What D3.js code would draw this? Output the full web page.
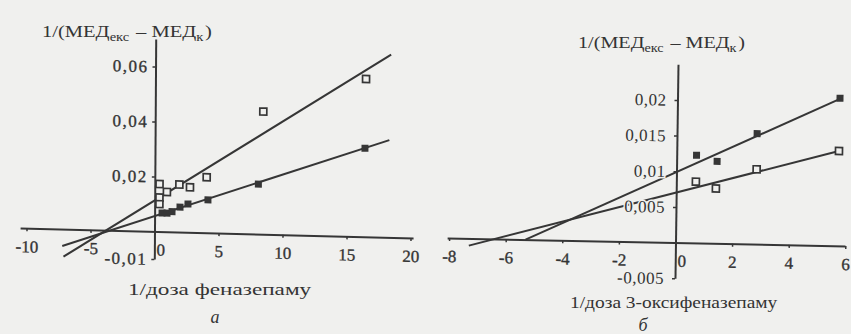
<!DOCTYPE html>
<html>
<head>
<meta charset="utf-8">
<script src="https://cdn.jsdelivr.net/npm/d3@7"></script>
<style>
  html, body { margin: 0; padding: 0; background: #f0f0ee; }
  svg { display: block; }
  text { font-family: "Liberation Serif", "Times New Roman", serif; fill: #343434; }
</style>
</head>
<body>
<svg id="chart" width="851" height="334"></svg>
<script>
// ---- Panel а: 1/доза феназепаму ----
const aXTicks = [-10, -5, 0, 5, 10, 15, 20];
const aYTicks = [-0.01, 0.02, 0.04, 0.06];
const aXExtent = [-10.5, 20.2];
const aYExtent = [-0.01, 0.07];
const aOpenX = [0.37, 0.95, 0.37, 0.37, 1.92, 2.75, 4.05, 8.44, 16.45];
const aOpenY = [0.0173, 0.0145, 0.0124, 0.0100, 0.0173, 0.0164, 0.0202, 0.0446, 0.0574];
const aFilledX = [0.58, 0.97, 1.36, 1.98, 2.6, 4.16, 8.09, 16.4];
const aFilledY = [0.0068, 0.0068, 0.0074, 0.0091, 0.0103, 0.0120, 0.0182, 0.0322];
const aOpenTrendX = [-7.1, 18.4];
const aOpenTrendY = [-0.0100, 0.0665];
const aFilledTrendX = [-7.2, 18.3];
const aFilledTrendY = [-0.0061, 0.0354];

// ---- Panel б: 1/доза 3-оксифеназепаму ----
const bXTicks = [-8, -6, -4, -2, 0, 2, 4, 6];
const bYTicks = [-0.005, 0.005, 0.01, 0.015, 0.02];
const bXExtent = [-8.07, 5.99];
const bYExtent = [-0.005, 0.025];
const bFilledX = [0.70, 1.43, 2.83, 5.74];
const bFilledY = [0.0123, 0.0115, 0.0155, 0.0207];
const bOpenX = [0.69, 1.40, 2.83, 5.73];
const bOpenY = [0.0086, 0.0077, 0.0105, 0.0133];
const bFilledTrendX = [-5.3, 5.74];
const bFilledTrendY = [0, 0.0206];
const bOpenTrendX = [-7.3, 5.73];
const bOpenTrendY = [-0.001, 0.0133];

const yTitleParts = [
  { t: "1/(МЕД" }, { t: "екс", sub: true }, { t: " – МЕД" }, { t: "к", sub: true }, { t: ")" }
];

const INK = "#363636";
const BG = "#f0f0ee";
const svg = d3.select("#chart");
svg.append("rect").attr("width", 851).attr("height", 334).attr("fill", BG);

const zip = (xs, ys) => xs.map((x, i) => [x, ys[i]]);
const commaFmt = d => String(d).replace(".", ",");

function drawPanel(p) {
  // the scanned page is slightly skewed: the x axis sinks to the right
  const g = svg.append("g")
    .attr("transform", `matrix(1,${p.tiltX},${-p.tiltY},1,${p.ox},${p.oy})`);

  const x = d3.scaleLinear().domain(p.xExtent).range(p.xExtent.map(v => v * p.kx));
  const y = d3.scaleLinear().domain(p.yExtent).range(p.yExtent.map(v => -v * p.ky));

  // x axis
  const gx = g.append("g")
    .call(d3.axisBottom(x).tickValues(p.xTicks).tickFormat(commaFmt)
      .tickSize(3).tickSizeOuter(0).tickPadding(9));
  gx.select(".domain").attr("stroke", INK).attr("stroke-width", 2);
  gx.selectAll(".tick line").attr("stroke", INK).attr("stroke-width", 1.5);
  gx.selectAll(".tick text")
    .attr("font-size", 17).attr("font-family", null).attr("fill", INK)
    .attr("stroke", INK).attr("stroke-width", 0.35)
    .attr("x", d => (d === 0 ? 6 : 0));

  // trend lines
  const line = d3.line().x(d => x(d[0])).y(d => y(d[1]));
  p.trends.forEach(t => {
    g.append("path").datum(t).attr("d", line)
      .attr("fill", "none").attr("stroke", INK).attr("stroke-width", 2);
  });

  // y axis
  const gy = g.append("g")
    .call(d3.axisLeft(y).tickValues(p.yTicks).tickFormat(commaFmt)
      .tickSize(3).tickSizeOuter(0).tickPadding(p.yPad));
  gy.select(".domain").attr("stroke", INK).attr("stroke-width", 2);
  gy.selectAll(".tick line").attr("stroke", INK).attr("stroke-width", 1.5);
  const yt = gy.selectAll(".tick text")
    .attr("font-size", 17).attr("font-family", null).attr("fill", INK)
    .attr("letter-spacing", p.ySpacing);
  if (p.yHalo) {
    yt.attr("stroke", BG).attr("stroke-width", 3).attr("paint-order", "stroke");
  } else {
    yt.attr("stroke", INK).attr("stroke-width", 0.35);
  }

  // markers
  const s = 7;
  g.append("g").selectAll("rect").data(p.filled).join("rect")
    .attr("x", d => x(d[0]) - s / 2).attr("y", d => y(d[1]) - s / 2)
    .attr("width", s).attr("height", s).attr("fill", INK);
  g.append("g").selectAll("rect").data(p.open).join("rect")
    .attr("x", d => x(d[0]) - s / 2).attr("y", d => y(d[1]) - s / 2)
    .attr("width", s).attr("height", s)
    .attr("fill", BG).attr("stroke", INK).attr("stroke-width", 1.7);
}

function fittedText(build, x, y, width) {
  const t = svg.append("text").attr("font-size", 17).attr("fill", INK);
  build(t);
  const w = t.node().getBBox().width;
  t.attr("transform", `translate(${x},${y}) scale(${width / w},1)`);
  return t;
}

function yTitle(t) {
  yTitleParts.forEach(part => {
    if (part.sub) {
      t.append("tspan").attr("font-size", 12).attr("dy", 4).text(part.t);
      t.append("tspan").attr("dy", -4).text("\u200a");
    } else {
      t.append("tspan").text(part.t);
    }
  });
}

drawPanel({
  ox: 154.5, oy: 231.5, kx: 12.8, ky: 2750, tiltX: 0.0254, tiltY: 0.0063,
  yPad: 4, ySpacing: 1.5, yHalo: false,
  xExtent: aXExtent, yExtent: aYExtent, xTicks: aXTicks, yTicks: aYTicks,
  trends: [zip(aOpenTrendX, aOpenTrendY), zip(aFilledTrendX, aFilledTrendY)],
  open: zip(aOpenX, aOpenY), filled: zip(aFilledX, aFilledY)
});

drawPanel({
  ox: 675.5, oy: 242.6, kx: 28.3, ky: 7132, tiltX: 0.02, tiltY: 0.014,
  yPad: 8, ySpacing: 0.5, yHalo: true,
  xExtent: bXExtent, yExtent: bYExtent, xTicks: bXTicks, yTicks: bYTicks,
  trends: [zip(bOpenTrendX, bOpenTrendY), zip(bFilledTrendX, bFilledTrendY)],
  open: zip(bOpenX, bOpenY), filled: zip(bFilledX, bFilledY)
});

// axis titles
fittedText(yTitle, 42, 37, 170);
fittedText(yTitle, 578, 48, 167);
fittedText(t => t.text("1/доза феназепаму"), 128, 295, 184);
fittedText(t => t.text("1/доза 3-оксифеназепаму"), 570, 308, 208);

// panel letters
svg.append("text").attr("x", 215).attr("y", 323).attr("text-anchor", "middle")
  .attr("font-size", 18).attr("font-style", "italic").attr("fill", INK).text("а");
svg.append("text").attr("x", 643).attr("y", 331).attr("text-anchor", "middle")
  .attr("font-size", 18).attr("font-style", "italic").attr("fill", INK).text("б");
</script>
</body>
</html>
